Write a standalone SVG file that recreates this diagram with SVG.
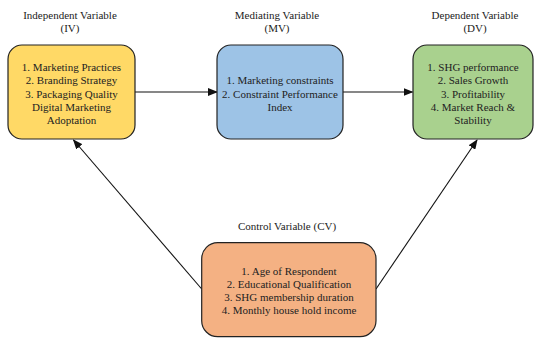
<svg xmlns="http://www.w3.org/2000/svg" width="536" height="340" viewBox="0 0 536 340">
  <style>
    text { font-family: "Liberation Serif", "Times New Roman", serif; font-size: 11px; fill: #222; text-anchor: middle; }
    .box { stroke: #222; stroke-width: 1.2; }
    .conn { stroke: #111; stroke-width: 1.1; fill: none; }
  </style>
  <defs>
    <marker id="arrow" markerWidth="10" markerHeight="8" refX="9" refY="4" orient="auto" markerUnits="userSpaceOnUse">
      <path d="M0,0 L10,4 L0,8 Z" fill="#111"/>
    </marker>
  </defs>

  <rect width="536" height="340" fill="#fff"/>

  <!-- connectors -->
  <g id="connectors">
    <line class="conn" x1="135" y1="92" x2="217" y2="92" marker-end="url(#arrow)"/>
    <line class="conn" x1="343" y1="92" x2="412.5" y2="92" marker-end="url(#arrow)"/>
    <line class="conn" x1="201.7" y1="289" x2="73.5" y2="140" marker-end="url(#arrow)"/>
    <line class="conn" x1="376" y1="289" x2="477" y2="140" marker-end="url(#arrow)"/>
  </g>

  <!-- independent variable -->
  <g id="iv">
    <text x="70" y="19">Independent Variable</text>
    <text x="70" y="32">(IV)</text>
    <rect class="box" x="8" y="45" width="127" height="94" rx="14" fill="#FFD966"/>
    <text x="71.5" y="70.5">1. Marketing Practices</text>
    <text x="71.5" y="84">2. Branding Strategy</text>
    <text x="71.5" y="97.5">3. Packaging Quality</text>
    <text x="71.5" y="110.5">Digital Marketing</text>
    <text x="71.5" y="124">Adoptation</text>
  </g>

  <!-- mediating variable -->
  <g id="mv">
    <text x="277" y="19">Mediating Variable</text>
    <text x="277" y="32">(MV)</text>
    <rect class="box" x="217" y="45" width="126" height="94" rx="14" fill="#9DC3E6"/>
    <text x="280" y="84">1. Marketing constraints</text>
    <text x="280" y="97.5">2. Constraint Performance</text>
    <text x="280" y="111">Index</text>
  </g>

  <!-- dependent variable -->
  <g id="dv">
    <text x="475" y="19">Dependent Variable</text>
    <text x="475" y="32">(DV)</text>
    <rect class="box" x="413" y="45" width="120" height="94" rx="14" fill="#A9D18E"/>
    <text x="473" y="70.5">1. SHG performance</text>
    <text x="473" y="84">2. Sales Growth</text>
    <text x="473" y="97.5">3. Profitability</text>
    <text x="473" y="110.5">4. Market Reach &amp;</text>
    <text x="473" y="124">Stability</text>
  </g>

  <!-- control variable -->
  <g id="cv">
    <text x="287" y="230">Control Variable (CV)</text>
    <rect class="box" x="201.7" y="242.7" width="174.3" height="94" rx="16" fill="#F4B183"/>
    <text x="289" y="274.5">1. Age of Respondent</text>
    <text x="289" y="287.5">2. Educational Qualification</text>
    <text x="289" y="301">3. SHG membership duration</text>
    <text x="289" y="314">4. Monthly house hold income</text>
  </g>
</svg>
